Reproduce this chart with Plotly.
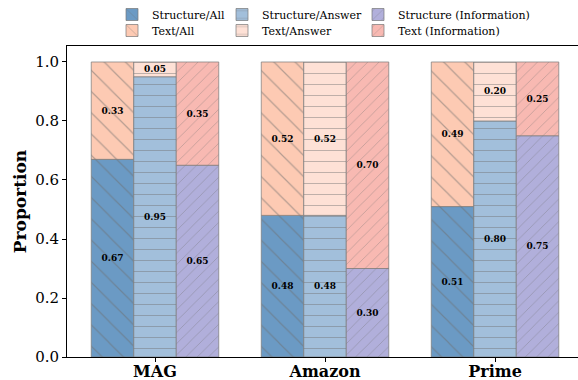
import plotly.graph_objects as go

# Share of structural vs textual signal per dataset, three views each
datasets = ["MAG", "Amazon", "Prime"]
structure_all = [0.67, 0.48, 0.51]
text_all = [0.33, 0.52, 0.49]
structure_answer = [0.95, 0.48, 0.80]
text_answer = [0.05, 0.52, 0.20]
structure_info = [0.65, 0.30, 0.75]
text_info = [0.35, 0.70, 0.25]
y_ticks = [0.0, 0.2, 0.4, 0.6, 0.8, 1.0]

SERIF = "DejaVu Serif"
BAR_W = 0.25
HATCH_COLOR = "#6e6e6e"

W, H = 578, 380
M_L, M_R, M_T, M_B = 67, 0, 46, 23
PLOT_W = W - M_L - M_R
PLOT_H = H - M_T - M_B

# name, values, stacked-on, fill, hatch, hatch size, bar slot, legend id, legend left px, legend row
series = [
    ("Structure/All", structure_all, None, "#6b9ac4", "\\", 15, 0, "legend", 112, 0),
    ("Text/All", text_all, structure_all, "#fdcab3", "\\", 15, 0, "legend2", 112, 1),
    ("Structure/Answer", structure_answer, None, "#a2bfdb", "-", 11, 1, "legend3", 222, 0),
    ("Text/Answer", text_answer, structure_answer, "#fee1d6", "-", 11, 1, "legend4", 222, 1),
    ("Structure (Information)", structure_info, None, "#b1afdb", "/", 8, 2, "legend5", 358, 0),
    ("Text (Information)", text_info, structure_info, "#f8b9b2", "/", 8, 2, "legend6", 358, 1),
]

fig = go.Figure()
legends = {}
for name, vals, base, color, hatch, hsize, slot, leg, lx, row in series:
    fig.add_trace(go.Bar(
        name=name,
        x=datasets,
        y=vals,
        base=base,
        width=BAR_W,
        offset=-1.5 * BAR_W + slot * BAR_W,
        marker=dict(
            color=color,
            line=dict(color="rgba(120,120,120,0.7)", width=1),
            pattern=dict(shape=hatch, fgcolor=HATCH_COLOR, fgopacity=0.5,
                         size=hsize, solidity=0.08),
        ),
        text=[f"{v:.2f}" for v in vals],
        textposition="inside",
        insidetextanchor="middle",
        textangle=0,
        constraintext="none",
        textfont=dict(family=SERIF, size=9, color="black", weight="bold"),
        legend=leg,
        hoverinfo="skip",
    ))
    legends[leg] = dict(
        x=(lx - M_L) / PLOT_W, xanchor="left",
        y=(H - M_B - (0 + 16 * row)) / PLOT_H, yanchor="top",
        bgcolor="rgba(0,0,0,0)", borderwidth=0,
        font=dict(family=SERIF, size=11, color="black"),
        orientation="v",
    )

fig.update_layout(
    width=W, height=H,
    margin=dict(l=M_L, r=M_R, t=M_T, b=M_B, autoexpand=False),
    barmode="overlay",
    plot_bgcolor="white", paper_bgcolor="white",
    font=dict(family=SERIF, color="black"),
    showlegend=True,
    **legends,
)

fig.update_xaxes(
    type="category",
    range=[-0.5176, 2.488],
    showline=True, linecolor="black", linewidth=1, mirror=True,
    ticks="outside", ticklen=4, tickcolor="black",
    ticklabelstandoff=-4,
    tickfont=dict(family=SERIF, size=16, color="black", weight="bold"),
    showgrid=False, zeroline=False,
)
fig.update_yaxes(
    range=[0, 1.0542],
    tickvals=y_ticks,
    ticktext=[f"{t:.1f}" for t in y_ticks],
    showline=True, linecolor="black", linewidth=1,
    ticks="outside", ticklen=4, tickcolor="black",
    tickfont=dict(family=SERIF, size=15, color="black"),
    title=dict(text="Proportion", standoff=4,
               font=dict(family=SERIF, size=17, color="black", weight="bold")),
    showgrid=False, zeroline=False,
)

fig.write_html("out.html")
